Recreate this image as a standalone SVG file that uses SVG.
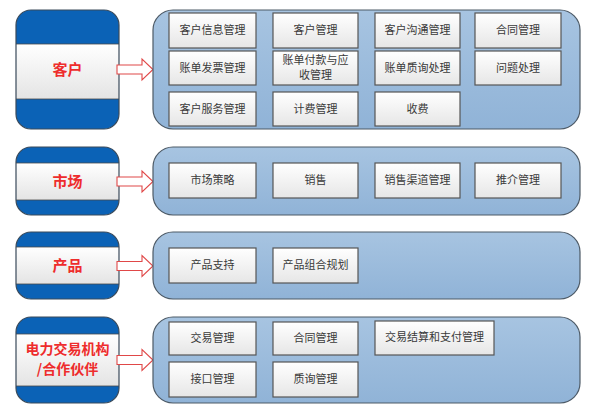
<svg xmlns="http://www.w3.org/2000/svg" xmlns:xlink="http://www.w3.org/1999/xlink" width="591" height="414" viewBox="0 0 591 414">
<defs>
<linearGradient id="cont" x1="0" y1="0" x2="0" y2="1">
<stop offset="0" stop-color="#a7c4e1"/>
<stop offset="1" stop-color="#90b3d7"/>
</linearGradient>
<linearGradient id="box" x1="0" y1="0" x2="0" y2="1">
<stop offset="0" stop-color="#ffffff"/>
<stop offset="1" stop-color="#e6e6e6"/>
</linearGradient>
<linearGradient id="band" x1="0" y1="0" x2="0" y2="1">
<stop offset="0" stop-color="#ffffff"/>
<stop offset="1" stop-color="#e4e4e4"/>
</linearGradient>
<path id="arrow" d="M117,-4.5 H142 V-10.5 L153,0 L142,10.5 V4.5 H117 Z"/>
<clipPath id="c1"><rect x="16" y="10" width="103" height="119" rx="15"/></clipPath>
<clipPath id="c2"><rect x="16" y="147" width="103" height="68" rx="15"/></clipPath>
<clipPath id="c3"><rect x="16" y="232" width="103" height="67" rx="15"/></clipPath>
<clipPath id="c4"><rect x="16" y="317" width="103" height="86" rx="15"/></clipPath>
</defs>
<style>
.blue{fill:#0b62b6;}
.band{fill:url(#band);stroke:#4a4a4a;stroke-width:0.8;}
.outline{fill:none;stroke:#3a4a5a;stroke-width:1.2;}
.cont{fill:url(#cont);stroke:#4d5a66;stroke-width:1.2;}
.box{fill:url(#box);stroke:#555;stroke-width:1.2;}
.lbl{font-family:"Noto Sans CJK SC","Liberation Sans",sans-serif;font-size:15px;font-weight:bold;fill:#ee2c2c;text-anchor:middle;}
.lbl2{font-size:14px;}
.t{font-family:"Noto Sans CJK SC","Liberation Sans",sans-serif;font-size:11px;fill:#3a3a3a;text-anchor:middle;}
.arr{fill:#ffffff;stroke:#e04848;stroke-width:1.1;}
</style>
<rect width="591" height="414" fill="#ffffff"/>

<g id="node-kehu">
<g clip-path="url(#c1)">
<rect class="blue" x="16" y="10" width="103" height="119"/>
<rect class="band" x="15" y="44" width="105" height="55"/>
</g>
<rect class="outline" x="16" y="10" width="103" height="119" rx="15"/>
<text class="lbl" x="67.5" y="75">客户</text>
</g>

<g id="node-shichang">
<g clip-path="url(#c2)">
<rect class="blue" x="16" y="147" width="103" height="68"/>
<rect class="band" x="15" y="163" width="105" height="37"/>
</g>
<rect class="outline" x="16" y="147" width="103" height="68" rx="15"/>
<text class="lbl" x="67.5" y="187">市场</text>
</g>

<g id="node-chanpin">
<g clip-path="url(#c3)">
<rect class="blue" x="16" y="232" width="103" height="67"/>
<rect class="band" x="15" y="247" width="105" height="37"/>
</g>
<rect class="outline" x="16" y="232" width="103" height="67" rx="15"/>
<text class="lbl" x="67.5" y="271">产品</text>
</g>

<g id="node-huoban">
<g clip-path="url(#c4)">
<rect class="blue" x="16" y="317" width="103" height="86"/>
<rect class="band" x="15" y="334" width="105" height="52"/>
</g>
<rect class="outline" x="16" y="317" width="103" height="86" rx="15"/>
<text class="lbl lbl2" x="67.5" y="354">电力交易机构</text>
<text class="lbl lbl2" x="67.5" y="374">/合作伙伴</text>
</g>

<g id="connectors">
<use class="arr" xlink:href="#arrow" transform="translate(0,69.5)"/>
<use class="arr" xlink:href="#arrow" transform="translate(0,181.5)"/>
<use class="arr" xlink:href="#arrow" transform="translate(0,266)"/>
<use class="arr" xlink:href="#arrow" transform="translate(0,360)"/>
</g>

<g id="group-kehu">
<rect class="cont" x="153" y="10" width="427" height="119" rx="20"/>
<rect class="box" x="169" y="13" width="87" height="35"/><text class="t" x="212.5" y="34">客户信息管理</text>
<rect class="box" x="273" y="13" width="85" height="35"/><text class="t" x="315.5" y="34">客户管理</text>
<rect class="box" x="375" y="13" width="85" height="35"/><text class="t" x="417.5" y="34">客户沟通管理</text>
<rect class="box" x="475" y="13" width="86" height="35"/><text class="t" x="518" y="34">合同管理</text>
<rect class="box" x="169" y="51" width="87" height="34"/><text class="t" x="212.5" y="72">账单发票管理</text>
<rect class="box" x="273" y="51" width="85" height="34"/><text class="t" x="315.5" y="64">账单付款与应</text><text class="t" x="315.5" y="78.5">收管理</text>
<rect class="box" x="375" y="51" width="85" height="34"/><text class="t" x="417.5" y="72">账单质询处理</text>
<rect class="box" x="475" y="51" width="86" height="34"/><text class="t" x="518" y="72">问题处理</text>
<rect class="box" x="169" y="92" width="87" height="34"/><text class="t" x="212.5" y="113">客户服务管理</text>
<rect class="box" x="273" y="92" width="85" height="34"/><text class="t" x="315.5" y="113">计费管理</text>
<rect class="box" x="375" y="92" width="85" height="34"/><text class="t" x="417.5" y="113">收费</text>
</g>

<g id="group-shichang">
<rect class="cont" x="153" y="147" width="427" height="68" rx="20"/>
<rect class="box" x="169" y="163" width="87" height="35"/><text class="t" x="212.5" y="184">市场策略</text>
<rect class="box" x="273" y="163" width="85" height="35"/><text class="t" x="315.5" y="184">销售</text>
<rect class="box" x="375" y="163" width="85" height="35"/><text class="t" x="417.5" y="184">销售渠道管理</text>
<rect class="box" x="475" y="163" width="86" height="35"/><text class="t" x="518" y="184">推介管理</text>
</g>

<g id="group-chanpin">
<rect class="cont" x="153" y="232" width="427" height="67" rx="20"/>
<rect class="box" x="169" y="248" width="87" height="35"/><text class="t" x="212.5" y="269">产品支持</text>
<rect class="box" x="273" y="248" width="85" height="35"/><text class="t" x="315.5" y="269">产品组合规划</text>
</g>

<g id="group-huoban">
<rect class="cont" x="153" y="317" width="427" height="86" rx="20"/>
<rect class="box" x="169" y="322" width="87" height="33"/><text class="t" x="212.5" y="342">交易管理</text>
<rect class="box" x="273" y="322" width="85" height="33"/><text class="t" x="315.5" y="342">合同管理</text>
<rect class="box" x="375" y="321" width="119" height="34"/><text class="t" x="434.5" y="341">交易结算和支付管理</text>
<rect class="box" x="169" y="362" width="87" height="35"/><text class="t" x="212.5" y="383">接口管理</text>
<rect class="box" x="273" y="362" width="85" height="35"/><text class="t" x="315.5" y="383">质询管理</text>
</g>
</svg>
